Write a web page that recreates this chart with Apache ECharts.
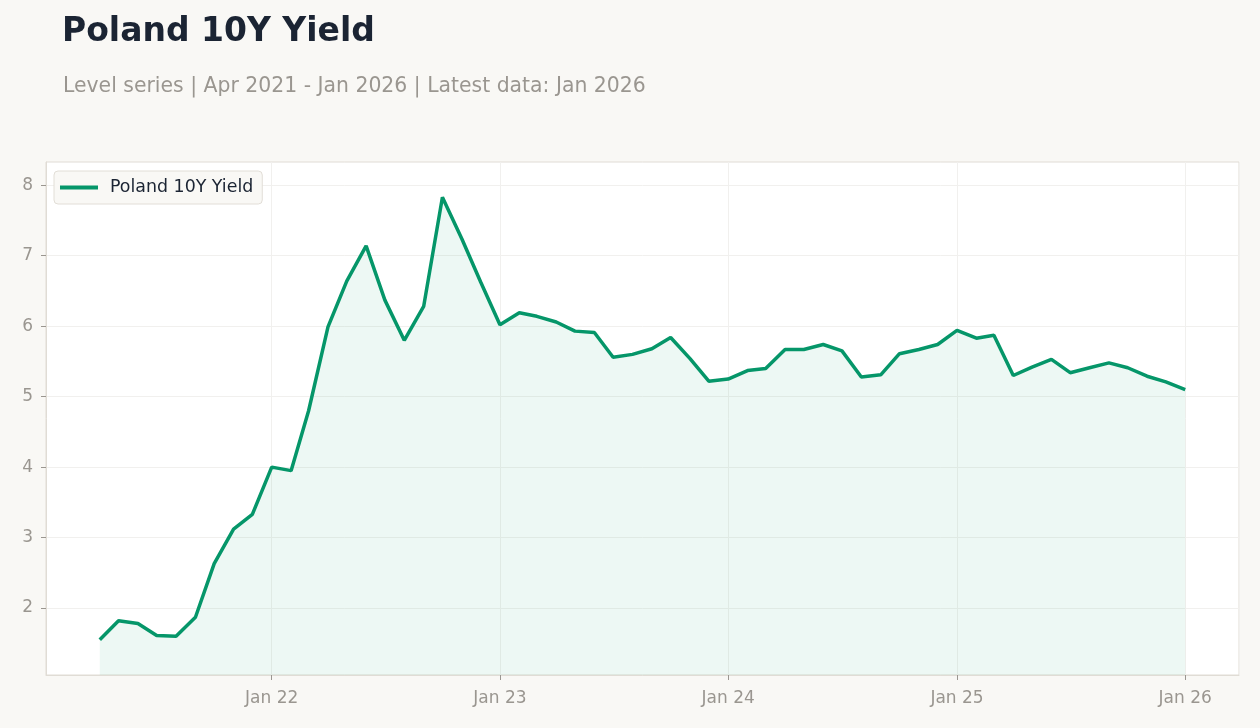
<!DOCTYPE html>
<html>
<head>
<meta charset="utf-8">
<script src="https://cdn.jsdelivr.net/npm/echarts@6/dist/echarts.min.js"></script>
<style>
html,body{margin:0;padding:0;background:#f9f8f5;}
#c{width:1260px;height:728px;}
</style>
</head>
<body>
<div id="c"></div>
<script>
const dates = [
'2021-04-01','2021-05-01','2021-06-01','2021-07-01','2021-08-01','2021-09-01','2021-10-01','2021-11-01','2021-12-01',
'2022-01-01','2022-02-01','2022-03-01','2022-04-01','2022-05-01','2022-06-01','2022-07-01','2022-08-01','2022-09-01','2022-10-01','2022-11-01','2022-12-01',
'2023-01-01','2023-02-01','2023-03-01','2023-04-01','2023-05-01','2023-06-01','2023-07-01','2023-08-01','2023-09-01','2023-10-01','2023-11-01','2023-12-01',
'2024-01-01','2024-02-01','2024-03-01','2024-04-01','2024-05-01','2024-06-01','2024-07-01','2024-08-01','2024-09-01','2024-10-01','2024-11-01','2024-12-01',
'2025-01-01','2025-02-01','2025-03-01','2025-04-01','2025-05-01','2025-06-01','2025-07-01','2025-08-01','2025-09-01','2025-10-01','2025-11-01','2025-12-01',
'2026-01-01'
];
const yields = [
1.55,1.82,1.78,1.61,1.60,1.87,2.63,3.12,3.33,
4.00,3.95,4.80,5.99,6.64,7.14,6.37,5.80,6.28,7.83,7.24,6.63,
6.02,6.19,6.14,6.06,5.93,5.91,5.56,5.60,5.68,5.84,5.54,5.22,
5.25,5.37,5.40,5.67,5.67,5.74,5.65,5.28,5.31,5.61,5.67,5.74,
5.94,5.83,5.87,5.30,5.42,5.53,5.34,5.41,5.48,5.41,5.29,5.21,
5.10
];
const yTicks = [2,3,4,5,6,7,8];
const seriesName = 'Poland 10Y Yield';
const titleText = 'Poland 10Y Yield';
const subtitleText = 'Level series | Apr 2021 - Jan 2026 | Latest data: Jan 2026';
const monthNames = ['Jan','Feb','Mar','Apr','May','Jun','Jul','Aug','Sep','Oct','Nov','Dec'];

const DAY = 86400000;
const seriesData = dates.map((d, i) => [d, yields[i]]);
const firstT = new Date(dates[0] + 'T00:00:00Z').getTime();
const lastT = new Date(dates[dates.length - 1] + 'T00:00:00Z').getTime();

const chart = echarts.init(document.getElementById('c'));
const font = 'DejaVu Sans';
chart.setOption({
  backgroundColor: '#f9f8f5',
  animation: false,
  textStyle: { fontFamily: font },
  title: [
    { text: titleText, left: 57, top: 11,
      textStyle: { fontSize: 33, fontWeight: 'bold', color: '#1b2433', fontFamily: font } },
    { text: subtitleText, left: 58, top: 72,
      textStyle: { fontSize: 20.4, fontWeight: 'normal', color: '#9a9690', fontFamily: font } }
  ],
  legend: {
    left: 54, top: 171,
    padding: [8, 9, 8, 6],
    backgroundColor: '#f9f8f5',
    borderColor: '#e2ded7',
    borderWidth: 1,
    borderRadius: 4,
    icon: 'rect',
    itemWidth: 38,
    itemHeight: 4,
    textStyle: { fontSize: 17.4, color: '#1b2433', fontFamily: font, padding: [0, 0, 0, 7] },
    data: [seriesName]
  },
  grid: {
    left: 46, right: 21, top: 162, bottom: 53,
    show: true, backgroundColor: '#ffffff', borderColor: '#e0dcd5', borderWidth: 1,
    containLabel: false
  },
  xAxis: {
    type: 'time',
    min: firstT - 86 * DAY,
    max: lastT + 86 * DAY,
    minInterval: 365 * DAY,
    maxInterval: 366 * DAY,
    axisLine: { show: true, lineStyle: { color: '#e0dcd5', width: 1 } },
    axisTick: { show: true, length: 5, lineStyle: { color: '#9a9690' } },
    splitLine: { show: true, lineStyle: { color: '#f1f0ee', width: 1 } },
    axisLabel: {
      color: '#9a9690', fontSize: 17, fontFamily: font, margin: 15,
      showMinLabel: false, showMaxLabel: false,
      formatter: function (v) {
        const d = new Date(v);
        return monthNames[d.getUTCMonth()] + ' ' + String(d.getUTCFullYear()).slice(2);
      }
    }
  },
  yAxis: {
    type: 'value',
    min: function (v) { return v.min - 0.5; },
    max: function (v) { return v.max + 0.5; },
    axisLine: { show: true, lineStyle: { color: '#e0dcd5', width: 1 } },
    axisTick: { show: true, length: 5, lineStyle: { color: '#9a9690' }, customValues: yTicks },
    splitLine: { show: true, lineStyle: { color: '#f1f0ee', width: 1 } },
    axisLabel: {
      color: '#9a9690', fontSize: 17, fontFamily: font, margin: 13,
      customValues: yTicks
    }
  },
  series: [{
    name: seriesName,
    type: 'line',
    data: seriesData,
    symbol: 'none',
    showSymbol: false,
    lineStyle: { color: '#059669', width: 3.5 },
    itemStyle: { color: '#059669' },
    areaStyle: { color: 'rgba(5,150,105,0.1)' }
  }]
});
</script>
</body>
</html>
